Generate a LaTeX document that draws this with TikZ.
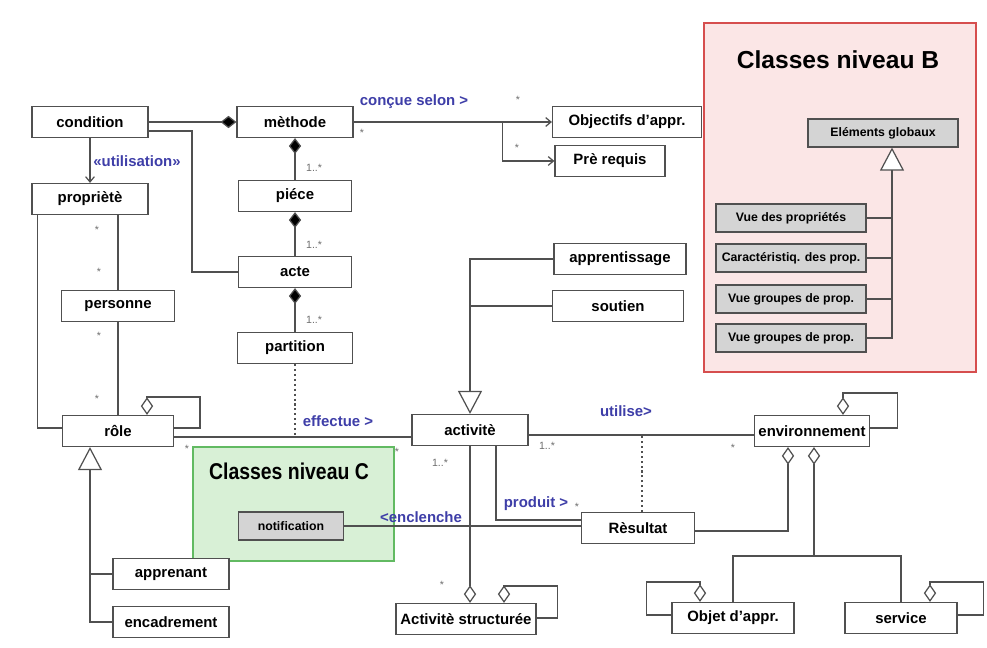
\documentclass[tikz,border=0pt]{standalone}
\usepackage{fontspec}
\setmainfont{Liberation Sans}
\usepackage{xcolor}
\usetikzlibrary{arrows.meta, positioning, calc}

\begin{document}
\begin{tikzpicture}[x=0.02cm, y=-0.02cm, font=\fontsize{8.5}{10}\selectfont\bfseries,
  cls/.style={draw=linegray, fill=white, line width=0.7pt, minimum width=#1, minimum height=0.62cm, inner sep=1pt},
  cls/.default=2.3cm,
  glob/.style={cls=#1, fill=boxgray, minimum height=0.56cm, font=\fontsize{7}{8}\selectfont\bfseries},
  glob/.default=3cm,
  link/.style={draw=linegray, line width=0.7pt},
  comp/.style={link, {Diamond[fill=black, length=9pt, width=7pt]}-},
  aggr/.style={link, {Diamond[open, fill=white, length=10pt, width=7pt]}-},
  gen/.style={link, {Triangle[open, fill=white, length=0.46cm, width=0.48cm]}-},
  nav/.style={link, -{Straight Barb[length=3pt, width=5pt]}},
  dep/.style={link, dash pattern=on 1.2pt off 1.6pt},
  lbl/.style={text=labelblue, inner sep=1pt},
  mult/.style={text=multgray, font=\fontsize{6}{7}\selectfont, inner sep=1pt}]

  % Define colors
  \definecolor{linegray}{RGB}{80,80,80}
  \definecolor{labelblue}{RGB}{62,62,168}
  \definecolor{multgray}{RGB}{110,110,110}
  \definecolor{boxgray}{RGB}{212,212,212}
  \definecolor{zonepink}{RGB}{251,230,230}
  \definecolor{zonered}{RGB}{214,78,78}
  \definecolor{zonegreen}{RGB}{216,240,214}
  \definecolor{zonegreenline}{RGB}{98,186,98}

  % Page frame (987 x 648 px)
  \fill[white] (0,0) rectangle (987,648);
  \useasboundingbox (0,0) rectangle (987,648);

  % Level zones
  \draw[zonered, fill=zonepink, line width=1pt] (704,23) rectangle (976,372);
  \node[font=\fontsize{14}{16}\selectfont\bfseries] (titleB) at (838,60) {Classes niveau B};
  \draw[zonegreenline, fill=zonegreen, line width=1pt] (193,447) rectangle (394,561);
  \node[font=\fontsize{13}{15}\selectfont\bfseries, xscale=0.85] (titleC) at (289,471) {Classes niveau C};

  % Classes, left part
  \node[cls=2.32cm] (condition) at (90,122) {condition};
  \node[cls=2.32cm] (methode) at (295,122) {mèthode};
  \node[cls=2.26cm] (piece) at (295,196) {piéce};
  \node[cls=2.26cm] (acte) at (295,272) {acte};
  \node[cls=2.30cm] (partition) at (295,348) {partition};
  \node[cls=2.32cm] (propriete) at (90,199) {propriètè};
  \node[cls=2.26cm] (personne) at (118,306) {personne};
  \node[cls=2.22cm] (role) at (118,431) {rôle};
  \node[cls=2.32cm] (apprenant) at (171,574) {apprenant};
  \node[cls=2.32cm] (encadrement) at (171,622) {encadrement};
  \node[glob=2.1cm] (notification) at (291,526) {notification};

  % Classes, right part
  \node[cls=2.98cm] (objectifs) at (627,122) {Objectifs d'appr.};
  \node[cls=2.20cm] (prerequis) at (610,161) {Prè requis};
  \node[cls=2.64cm] (apprent) at (620,259) {apprentissage};
  \node[cls=2.62cm] (soutien) at (618,306) {soutien};
  \node[cls=2.32cm] (activite) at (470,430) {activitè};
  \node[cls=2.26cm] (resultat) at (638,528) {Rèsultat};
  \node[cls=2.30cm] (environ) at (812,431) {environnement};
  \node[cls=2.80cm] (actstruct) at (466,619) {Activitè structurée};
  \node[cls=2.44cm] (objet) at (733,618) {Objet d'appr.};
  \node[cls=2.24cm] (service) at (901,618) {service};

  % Classes niveau B
  \node[glob] (elements) at (883,133) {Eléments globaux};
  \node[glob] (vueprop) at (791,218) {Vue des propriétés};
  \node[glob] (carac) at (791,258) {Caractéristiq. des prop.};
  \node[glob] (vuegrpA) at (791,299) {Vue groupes de prop.};
  \node[glob] (vuegrpB) at (791,338) {Vue groupes de prop.};

  % condition links
  \draw[comp] (methode.west) -- (condition.east);
  \draw[link] ($(condition.east)+(0,9)$) -| ($(acte.west)+(-46,0)$) -- (acte.west);
  \draw[nav] (condition) -- (propriete);
  \node[lbl] (lutil) at (137,161) {«utilisation»};

  % Composition chain
  \draw[comp] (methode) -- (piece) node[mult, pos=0.72, right=5pt] {1..*};
  \draw[comp] (piece) -- (acte) node[mult, pos=0.75, right=5pt] {1..*};
  \draw[comp] (acte) -- (partition) node[mult, pos=0.73, right=5pt] {1..*};

  % méthode -> objectifs / pré requis
  \draw[nav] (methode.east) -- (objectifs.west);
  \coordinate (fork) at ($(methode.east)!0.75!(objectifs.west)$);
  \draw[nav] (fork) |- (prerequis.west);
  \node[lbl] (lconcue) at (414,102) {conçue selon >};
  \node[mult] (m1) at (362,133) {*};
  \node[mult] (m2) at (518,100) {*};
  \node[mult] (m3) at (517,148) {*};

  % propriété - personne - rôle
  \draw[link] (personne.north) -- (personne.north |- propriete.south);
  \draw[link] (personne) -- (role);
  \draw[link] ($(propriete.south west)+(6,0)$) |- ($(role.west)+(0,-3)$);
  \node[mult] (m4) at (97,230) {*};
  \node[mult] (m5) at (99,272) {*};
  \node[mult] (m6) at (99,336) {*};
  \node[mult] (m7) at (97,399) {*};

  % rôle self aggregation and generalization
  \draw[aggr] ($(role.north)+(29,0)$) -- ++(0,-18) -| ($(role.east)+(26,-3)$) -- ($(role.east)+(0,-3)$);
  \coordinate (rolebase) at ($(role.south)+(-28,0)$);
  \draw[gen] (rolebase) |- (encadrement.west);
  \draw[link] (apprenant.west) -- (apprenant.west -| rolebase);

  % rôle - activité
  \coordinate (rlink) at ($(role.east)+(0,6)$);
  \draw[link] (rlink) -- ($(activite.west)+(0,7)$);
  \draw[dep] (partition.south) -- (partition.south |- rlink);
  \node[lbl] (leffectue) at (338,421) {effectue >};
  \node[mult] (m8) at (187,449) {*};
  \node[mult] (m9) at (397,452) {*};

  % activité generalization
  \draw[gen] (activite.north) |- (apprent.west);
  \draw[link] (soutien.west) -- (soutien.west -| activite.north);

  % activité - environnement
  \coordinate (alink) at ($(activite.east)+(0,5)$);
  \draw[link] (alink) -- ($(environ.west)+(0,4)$);
  \coordinate (resdot) at ($(resultat.north)+(4,0)$);
  \draw[dep] (resdot) -- (resdot |- alink);
  \node[lbl] (lutilise) at (626,411) {utilise>};
  \node[mult] (m10) at (547,446) {1..*};
  \node[mult] (m11) at (733,448) {*};

  % activité - résultat, notification
  \draw[link] ($(activite.south)+(26,0)$) |- ($(resultat.west)+(0,-8)$);
  \node[lbl] (lproduit) at (536,504) {produit >};
  \node[mult] (m12) at (577,507) {*};
  \draw[link] (notification.east) -- (notification.east -| resultat.west);
  \node[lbl] (lenclenche) at (421,517) {<enclenche};

  % activité structurée
  \draw[aggr] (actstruct.north -| activite.south) -- (activite.south);
  \draw[aggr] ($(actstruct.north)+(38,0)$) -- ++(0,-17) -| ($(actstruct.east)+(21,-1)$) -- ($(actstruct.east)+(0,-1)$);
  \node[mult] (m13) at (440,463) {1..*};
  \node[mult] (m14) at (442,585) {*};

  % environnement aggregations
  \draw[aggr] ($(environ.north)+(31,0)$) -- ++(0,-22) -| ($(environ.east)+(27,-3)$) -- ($(environ.east)+(0,-3)$);
  \draw[aggr] ($(environ.south)+(-24,0)$) |- ($(resultat.east)+(0,3)$);
  \coordinate (envbus) at ($(environ.south)+(2,109)$);
  \draw[aggr] ($(environ.south)+(2,0)$) -- (envbus);
  \draw[link] (objet.north) |- (envbus) -| (service.north);
  \draw[aggr] ($(objet.north)+(-33,0)$) -- ++(0,-20) -| ($(objet.west)+(-25,-3)$) -- ($(objet.west)+(0,-3)$);
  \draw[aggr] ($(service.north)+(29,0)$) -- ++(0,-20) -| ($(service.east)+(26,-3)$) -- ($(service.east)+(0,-3)$);

  % Classes niveau B generalization
  \coordinate (elemtip) at ($(elements.south)+(9,0)$);
  \draw[gen] (elemtip) |- (vuegrpB.east);
  \foreach \n in {vueprop, carac, vuegrpA}
    \draw[link] (\n.east) -- (\n.east -| elemtip);

\end{tikzpicture}
\end{document}
